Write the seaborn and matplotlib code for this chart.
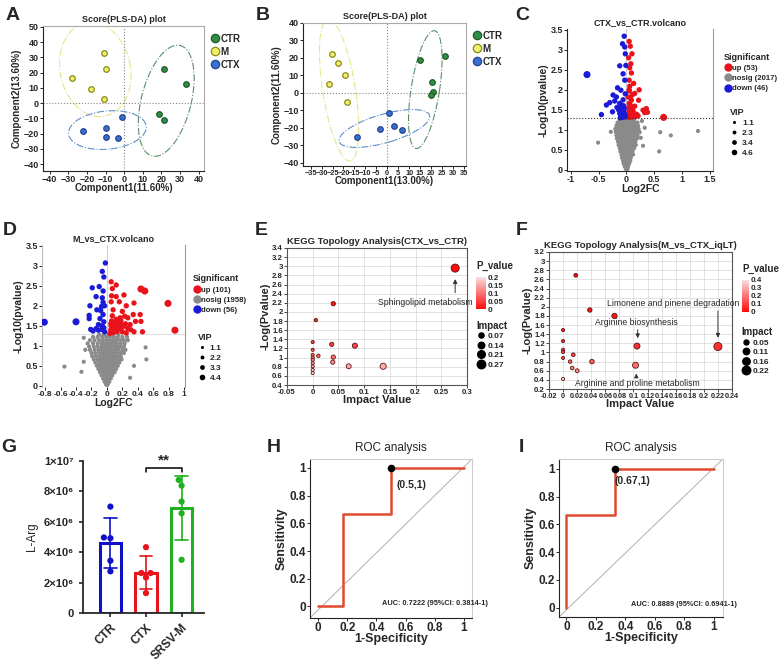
import pandas as pd
import matplotlib
matplotlib.use("Agg")
import matplotlib.pyplot as plt
from matplotlib.patches import Ellipse
from matplotlib.lines import Line2D
from matplotlib.colors import LinearSegmentedColormap, Normalize
from matplotlib.cm import ScalarMappable
import seaborn as sns

# ─────────────── DATA ───────────────
# A : PLS-DA scores (CTX vs CTR vs M)
a_ctr_x = [21.3, 33.3, 18.8, 21.5]
a_ctr_y = [22.1, 12.4, -7.4, -11.1]
a_m_x = [-10.8, -9.9, -28.0, -17.9, -10.8]
a_m_y = [33.0, 22.3, 16.4, 9.0, 2.4]
a_ctx_x = [-1.0, -9.7, -22.0, -9.7, -3.1]
a_ctx_y = [-9.4, -16.4, -18.3, -22.0, -22.9]

# B : PLS-DA scores
b_ctr_x = [15.1, 26.6, 20.6, 20.8, 20.0]
b_ctr_y = [18.8, 21.3, 6.3, 0.4, -1.0]
b_m_x = [-25.2, -22.5, -19.5, -26.6, -18.6]
b_m_y = [22.3, 17.3, 10.2, 5.2, -5.2]
b_ctx_x = [0.9, -3.4, 3.1, 6.9, -13.8]
b_ctx_y = [-11.5, -20.7, -19.0, -21.1, -25.3]

# C : volcano CTX_vs_CTR
c_up = [(0.05, 3.21), (0.07, 3.09), (0.10, 2.90), (0.08, 2.65), (0.09, 2.42), (0.05, 2.24),
        (0.13, 2.16), (0.06, 2.09), (0.23, 2.0), (0.05, 1.97), (0.15, 1.91), (0.03, 1.82),
        (0.09, 1.74), (0.22, 1.74), (0.05, 1.66), (0.15, 1.59), (0.36, 1.53), (0.30, 1.49),
        (0.38, 1.44), (0.33, 1.43), (0.06, 1.49), (0.09, 1.41), (0.18, 1.39), (0.05, 1.33),
        (0.13, 1.37), (0.04, 1.55), (0.07, 1.62), (0.10, 1.52), (0.03, 1.42), (0.06, 1.36),
        (0.10, 1.32), (0.04, 1.31), (0.08, 1.45), (0.12, 1.47), (0.07, 1.80), (0.05, 2.0),
        (0.08, 1.55), (0.16, 1.33), (0.21, 1.35), (0.06, 2.55), (0.04, 2.80), (0.11, 1.88)]
c_down = [(-0.04, 3.34), (-0.07, 3.15), (-0.03, 3.07), (-0.12, 2.60), (-0.01, 2.61), (-0.06, 2.40),
          (-0.03, 2.24), (-0.16, 2.05), (-0.10, 1.99), (-0.24, 1.87), (-0.18, 1.82), (-0.30, 1.68),
          (-0.21, 1.72), (-0.12, 1.66), (-0.36, 1.62), (-0.17, 1.56), (-0.09, 1.56), (-0.06, 1.49),
          (-0.45, 1.38), (-0.25, 1.45), (-0.12, 1.41), (-0.06, 1.37), (-0.02, 2.90), (-0.08, 1.45),
          (-0.04, 1.42), (-0.10, 1.35), (-0.03, 1.32), (-0.07, 1.31), (-0.14, 1.50), (-0.05, 1.60),
          (-0.02, 1.35), (-0.09, 1.62), (-0.04, 1.52), (-0.11, 1.30), (-0.06, 1.75), (-0.02, 1.90)]
c_up_big = [(0.67, 1.31)]
c_down_big = [(-0.71, 2.38)]
c_gray_rows = [
    (0.02, [-0.01, 0.0, 0.01, 0.02]),
    (0.08, [-0.03, -0.01, 0.0, 0.01, 0.03]),
    (0.15, [-0.05, -0.03, -0.01, 0.01, 0.03, 0.05]),
    (0.22, [-0.06, -0.03, 0.0, 0.02, 0.04, 0.07]),
    (0.30, [-0.08, -0.05, -0.02, 0.0, 0.02, 0.05, 0.08]),
    (0.38, [-0.09, -0.06, -0.03, 0.0, 0.03, 0.06, 0.09, 0.12]),
    (0.46, [-0.11, -0.07, -0.04, -0.01, 0.02, 0.05, 0.08, 0.11]),
    (0.54, [-0.12, -0.08, -0.05, -0.02, 0.01, 0.04, 0.07, 0.10, 0.14]),
    (0.62, [-0.14, -0.10, -0.06, -0.03, 0.0, 0.03, 0.06, 0.09, 0.13, 0.17]),
    (0.70, [-0.15, -0.11, -0.07, -0.04, -0.01, 0.02, 0.05, 0.08, 0.12, 0.16]),
    (0.78, [-0.17, -0.12, -0.08, -0.05, -0.02, 0.01, 0.04, 0.07, 0.10, 0.14, 0.19]),
    (0.86, [-0.18, -0.13, -0.09, -0.05, -0.02, 0.01, 0.04, 0.08, 0.11, 0.15, 0.20]),
    (0.94, [-0.19, -0.14, -0.10, -0.06, -0.03, 0.0, 0.03, 0.06, 0.10, 0.14, 0.18, 0.24]),
    (1.02, [-0.20, -0.15, -0.10, -0.06, -0.02, 0.01, 0.05, 0.09, 0.13, 0.17, 0.22]),
    (1.10, [-0.18, -0.13, -0.08, -0.04, 0.0, 0.04, 0.08, 0.12, 0.16, 0.21]),
    (1.18, [-0.16, -0.10, -0.05, -0.01, 0.03, 0.07, 0.11, 0.15, 0.20]),
    (1.25, [-0.12, -0.06, -0.02, 0.02, 0.06, 0.10, 0.14]),
]
c_gray_out = [(1.29, 0.97), (0.80, 0.86), (0.61, 0.94), (0.59, 0.46), (-0.51, 0.68),
              (0.28, 1.22), (0.33, 1.05), (0.26, 0.80), (-0.28, 0.95), (0.30, 0.60)]

# D : volcano M_vs_CTX
d_up = [(0.055, 2.6), (0.12, 2.52), (0.07, 2.43), (0.22, 2.27), (0.35, 2.07), (0.12, 2.23),
        (0.055, 2.1), (0.16, 2.1), (0.25, 2.0), (0.08, 1.9), (0.2, 1.86), (0.34, 1.78),
        (0.43, 1.78), (0.23, 1.74), (0.27, 1.7), (0.12, 1.66), (0.18, 1.63), (0.37, 1.61),
        (0.44, 1.61), (0.3, 1.53), (0.16, 1.53), (0.22, 1.49), (0.055, 1.49), (0.12, 1.45),
        (0.18, 1.41), (0.27, 1.43), (0.35, 1.35), (0.46, 1.35), (0.1, 1.35), (0.2, 1.35),
        (0.06, 1.62), (0.09, 1.57), (0.14, 1.58), (0.05, 1.4), (0.08, 1.33), (0.13, 1.36),
        (0.07, 1.75), (0.1, 1.5), (0.15, 1.46), (0.04, 1.31), (0.24, 1.55), (0.31, 1.4),
        (0.06, 2.25), (0.09, 1.42), (0.17, 1.7), (0.11, 1.38), (0.25, 1.32), (0.2, 1.52),
        (0.05, 1.55)]
d_down = [(-0.02, 3.07), (-0.06, 2.86), (-0.04, 2.72), (-0.19, 2.45), (-0.1, 2.48), (-0.05, 2.37),
          (-0.14, 2.23), (-0.06, 2.2), (-0.05, 2.09), (-0.07, 1.98), (-0.03, 2.0), (-0.22, 2.0),
          (-0.13, 1.9), (-0.23, 1.76), (-0.23, 1.68), (-0.05, 1.78), (-0.09, 1.68), (-0.04, 1.6),
          (-0.11, 1.53), (-0.21, 1.41), (-0.14, 1.43), (-0.11, 1.39), (-0.07, 1.41), (-0.18, 1.37),
          (-0.06, 1.5), (-0.03, 1.35), (-0.08, 1.88), (-0.04, 1.45)]
d_up_big = [(0.44, 2.42), (0.49, 2.37), (0.79, 2.06), (0.88, 1.39)]
d_down_big = [(-0.81, 1.59), (-0.4, 1.6)]
d_gray_rows = [
    (0.03, [-0.01, 0.0, 0.01]),
    (0.10, [-0.03, -0.01, 0.01, 0.03]),
    (0.18, [-0.05, -0.02, 0.0, 0.02, 0.05]),
    (0.26, [-0.07, -0.04, -0.01, 0.02, 0.04, 0.07]),
    (0.34, [-0.09, -0.05, -0.02, 0.01, 0.04, 0.07, 0.10]),
    (0.42, [-0.11, -0.07, -0.04, -0.01, 0.02, 0.05, 0.08, 0.12]),
    (0.50, [-0.13, -0.09, -0.05, -0.02, 0.01, 0.04, 0.07, 0.10, 0.14]),
    (0.58, [-0.15, -0.10, -0.06, -0.03, 0.0, 0.03, 0.06, 0.09, 0.12, 0.16]),
    (0.66, [-0.17, -0.12, -0.08, -0.04, -0.01, 0.02, 0.05, 0.08, 0.11, 0.15, 0.19]),
    (0.74, [-0.19, -0.14, -0.09, -0.05, -0.02, 0.01, 0.04, 0.07, 0.10, 0.14, 0.18]),
    (0.82, [-0.20, -0.15, -0.10, -0.06, -0.03, 0.0, 0.03, 0.06, 0.10, 0.14, 0.18, 0.22]),
    (0.90, [-0.22, -0.16, -0.11, -0.07, -0.03, 0.0, 0.03, 0.07, 0.11, 0.15, 0.20, 0.24]),
    (0.98, [-0.23, -0.17, -0.12, -0.07, -0.03, 0.01, 0.05, 0.09, 0.13, 0.17, 0.22]),
    (1.06, [-0.25, -0.18, -0.12, -0.07, -0.03, 0.01, 0.05, 0.09, 0.13, 0.18, 0.23]),
    (1.14, [-0.22, -0.16, -0.10, -0.05, 0.0, 0.04, 0.08, 0.12, 0.17, 0.22, 0.27]),
    (1.22, [-0.18, -0.12, -0.06, -0.01, 0.04, 0.09, 0.14, 0.20, 0.26]),
    (1.28, [-0.10, -0.04, 0.02, 0.08, 0.15]),
]
d_gray_out = [(-0.55, 0.48), (-0.30, 0.60), (-0.33, 0.35), (-0.30, 1.20), (0.50, 0.96),
              (0.51, 0.66), (0.30, 0.20), (-0.28, 0.90), (0.35, 0.50)]

# E : KEGG topology CTX_vs_CTR
e_impact = [0.277, 0.040, 0.006, 0.037, 0.082, 0.040, 0.011, 0.039, 0.070, 0.137,
            0, 0, 0, 0, 0, 0, 0, 0, 0]
e_logp = [2.96, 2.18, 1.82, 1.29, 1.26, 1.01, 1.04, 0.90, 0.81, 0.81,
          1.34, 1.17, 1.06, 1.00, 0.95, 0.88, 0.81, 0.73, 0.66]

# F : KEGG topology M_vs_CTX
f_impact = [0.018, 0.038, 0.073, 0.105, 0.220, 0.103, 0.041, 0.0145, 0.010, 0.013, 0.020,
            0, 0, 0, 0, 0, 0]
f_logp = [2.69, 1.93, 1.80, 1.14, 1.13, 0.72, 0.80, 0.95, 0.80, 0.66, 0.60,
          1.49, 1.25, 1.06, 1.01, 0.88, 0.42]

# G : L-Arg levels
g_groups = ["CTR", "CTX", "SRSV-M"]
g_ctr = [7.00e6, 4.97e6, 4.92e6, 3.44e6, 2.74e6]
g_ctx = [4.33e6, 2.63e6, 2.63e6, 2.34e6, 1.31e6]
g_srsv = [8.75e6, 8.38e6, 7.33e6, 6.56e6, 3.50e6]

# H, I : ROC curves
h_fpr = [0, 0.167, 0.167, 0.5, 0.5, 1]
h_tpr = [0, 0, 0.667, 0.667, 1, 1]
i_fpr = [0, 0, 0.333, 0.333, 1]
i_tpr = [0, 0.667, 0.667, 1, 1]

# ─────────────── STYLE ───────────────
sns.set_style("ticks")
plt.rcParams["font.family"] = ["Liberation Sans", "DejaVu Sans"]
plt.rcParams["font.weight"] = "bold"
plt.rcParams["axes.labelweight"] = "bold"
plt.rcParams["axes.titleweight"] = "bold"
plt.rcParams["axes.linewidth"] = 0.8

W, H = 779, 661


def box(l, t, r, b):
    return [l / W, 1 - b / H, (r - l) / W, (b - t) / H]


fig = plt.figure(figsize=(7.79, 6.61), dpi=100)

for lab, x, y in [("A", 13, 15), ("B", 263, 15), ("C", 522, 15), ("D", 10, 230), ("E", 261, 230),
                  ("F", 522, 230), ("G", 9, 447), ("H", 274, 447), ("I", 521, 447)]:
    fig.text(x / W, 1 - y / H, lab, fontsize=14, fontweight="bold", ha="center", va="center")


def style_box(ax, fs=6.5):
    for s in ["left", "bottom"]:
        ax.spines[s].set_color("#222222")
    for s in ["top", "right"]:
        ax.spines[s].set_color("#aaaaaa")
        ax.spines[s].set_visible(True)
    ax.tick_params(length=2, width=0.7, labelsize=fs, pad=1)


# ─────────────── A / B : PLS-DA ───────────────
GREEN, YEL, BLUE = "#2f8f45", "#f2ef6a", "#3b6fd4"


def plsda(ax, pts, ells, xlim, ylim, xticks, yticks, xlab, ylab, xfs):
    for (xs, ys), fc, ec in zip(pts, [GREEN, YEL, BLUE], ["#1f5a2b", "#8a8a1a", "#23468f"]):
        sns.scatterplot(x=xs, y=ys, color=fc, edgecolor=ec, linewidth=0.9, s=16, ax=ax, zorder=3)
    for (cx, cy, w, h, ang), col in zip(ells, ["#5b8f68", "#e6e48a", "#5d8fcc"]):
        ax.add_patch(Ellipse((cx, cy), w, h, angle=ang, fill=False, ec=col, ls="-.", lw=0.8))
    ax.axhline(0, color="#888888", ls=":", lw=0.8)
    ax.axvline(0, color="#888888", ls=":", lw=0.8)
    ax.set_xlim(*xlim)
    ax.set_ylim(*ylim)
    ax.set_xticks(xticks)
    ax.set_yticks(yticks)
    ax.set_title("Score(PLS-DA) plot", fontsize=6.5, pad=3)
    ax.set_xlabel(xlab, fontsize=7, labelpad=-1)
    ax.set_ylabel(ylab, fontsize=7, labelpad=1)
    style_box(ax, 6.5)
    ax.tick_params(axis="x", labelsize=xfs)
    hd = [Line2D([], [], marker="o", ls="", mfc=c, mec=e, ms=6, mew=0.9)
          for c, e in zip([GREEN, YEL, BLUE], ["#1f5a2b", "#8a8a1a", "#23468f"])]
    ax.legend(hd, ["CTR", "M", "CTX"], loc="upper left", bbox_to_anchor=(1.0, 0.98), frameon=False,
              fontsize=7, handletextpad=0.0, labelspacing=0.3, borderpad=0, handlelength=1.2)


axA = fig.add_axes(box(43, 26, 204, 171))
plsda(axA, [(a_ctr_x, a_ctr_y), (a_m_x, a_m_y), (a_ctx_x, a_ctx_y)],
      [(22.6, 1.5, 74, 27, 79), (-15.5, 22.0, 62, 38, 97), (-9.0, -17.7, 42, 25, 8)],
      (-43.6, 42.9), (-44.5, 50.5), range(-40, 41, 10), range(-40, 51, 10),
      "Component1(11.60%)", "Component2(13.60%)", 6.5)

axB = fig.add_axes(box(303, 23, 466, 166))
plsda(axB, [(b_ctr_x, b_ctr_y), (b_m_x, b_m_y), (b_ctx_x, b_ctx_y)],
      [(17.4, 1.8, 68, 13, 83), (-22.0, 1.5, 82, 15, 97), (-1.3, -20.5, 44, 16, 21)],
      (-38.5, 36), (-42, 40), range(-35, 36, 5), range(-40, 41, 10),
      "Component1(13.00%)", "Component2(11.60%)", 5.3)

# ─────────────── C / D : volcano ───────────────
VPAL = {"up": "#e8141c", "nosig": "#8a8a8a", "down": "#1a1ad8"}


def volcano_df(up, down, gray_rows, gray_out, up_big, down_big):
    rows = []
    for yv, xs in gray_rows:
        rows += [(x, yv, "nosig", 1.1) for x in xs]
    rows += [(x, y, "nosig", 1.1) for x, y in gray_out]
    rows += [(x, y, "up", 2.3) for x, y in up]
    rows += [(x, y, "down", 2.3) for x, y in down]
    rows += [(x, y, "up", 4.5) for x, y in up_big]
    rows += [(x, y, "down", 4.5) for x, y in down_big]
    return pd.DataFrame(rows, columns=["x", "y", "grp", "vip"])


def volcano(ax, df, title, counts, vips, sig_anchor, vip_anchor):
    sns.scatterplot(data=df, x="x", y="y", hue="grp", palette=VPAL, size="vip", sizes=(9, 26),
                    size_norm=(1.1, 4.5), linewidth=0, legend=False, ax=ax, zorder=3)
    ax.set_title(title, fontsize=6.5, pad=3)
    ax.set_xlabel("Log2FC", fontsize=7.5, labelpad=0)
    ax.set_ylabel("-Log10(pvalue)", fontsize=7.5, labelpad=1)
    ax.set_ylim(-0.03, 3.52)
    ax.set_yticks([0, 0.5, 1, 1.5, 2, 2.5, 3, 3.5])
    ax.set_yticklabels(["0", "0.5", "1", "1.5", "2", "2.5", "3", "3.5"])
    ax.tick_params(length=2, width=0.7, labelsize=6.5, pad=1)
    hd = [Line2D([], [], marker="o", ls="", color=VPAL[k], ms=5) for k in ["up", "nosig", "down"]]
    labs = [f"up ({counts[0]})", f"nosig ({counts[1]})", f"down ({counts[2]})"]
    leg = ax.legend(hd, labs, title="Significant", loc="upper left", bbox_to_anchor=sig_anchor,
                    frameon=False, fontsize=5.6, title_fontsize=6.5, handletextpad=0.05,
                    labelspacing=0.35, borderpad=0, handlelength=1.0)
    leg._legend_box.align = "left"
    ax.add_artist(leg)
    hd2 = [Line2D([], [], marker="o", ls="", color="black", ms=m) for m in [1.2, 1.8, 2.4, 3.0]]
    leg2 = ax.legend(hd2, vips, title="VIP", loc="upper left", bbox_to_anchor=vip_anchor,
                     frameon=False, fontsize=6, title_fontsize=6.5, handletextpad=0.4,
                     labelspacing=0.25, borderpad=0, handlelength=1.0)
    leg2._legend_box.align = "left"


axC = fig.add_axes(box(567, 29, 713, 171))
dfC = volcano_df(c_up, c_down, c_gray_rows, c_gray_out, c_up_big, c_down_big)
axC.axvline(0, color="#cccccc", lw=0.7, zorder=1)
axC.axhline(1.301, color="#333333", ls=":", lw=0.8, zorder=4)
volcano(axC, dfC, "CTX_vs_CTR.volcano", (53, 2017, 46), ["1.1", "2.3", "3.4", "4.6"],
        (1.05, 0.86), (1.09, 0.47))
axC.set_xlim(-1.07, 1.56)
axC.set_xticks([-1, -0.5, 0, 0.5, 1, 1.5])
axC.set_xticklabels(["-1", "-0.5", "0", "0.5", "1", "1.5"])
axC.spines["top"].set_visible(False)
axC.spines["right"].set_color("#999999")
axC.spines["left"].set_color("#222222")
axC.spines["bottom"].set_color("#222222")

axD = fig.add_axes(box(42, 245, 185, 387))
dfD = volcano_df(d_up, d_down, d_gray_rows, d_gray_out, d_up_big, d_down_big)
axD.axvline(0, color="#cccccc", lw=0.7, zorder=1)
axD.axhline(1.301, color="#dddddd", lw=0.7, zorder=1)
volcano(axD, dfD, "M_vs_CTX.volcano", (101, 1958, 56), ["1.1", "2.2", "3.3", "4.4"],
        (1.03, 0.82), (1.06, 0.41))
axD.set_xlim(-0.84, 1.01)
axD.set_xticks([-0.8, -0.6, -0.4, -0.2, 0, 0.2, 0.4, 0.6, 0.8, 1])
axD.set_xticklabels(["-0.8", "-0.6", "-0.4", "-0.2", "0", "0.2", "0.4", "0.6", "0.8", "1"])
axD.tick_params(axis="x", labelsize=6)
axD.spines["top"].set_visible(False)
axD.spines["bottom"].set_visible(False)
axD.spines["right"].set_color("#999999")
axD.spines["left"].set_color("#bbbbbb")

# ─────────────── E / F : KEGG topology ───────────────
PCMAP = LinearSegmentedColormap.from_list("pv", ["#ff0a0a", "#f8dede"])


def kegg(ax, impact, logp, pmax, imax, title, xlim, ylim, xticks, yticks, sizes_leg, cax):
    df = pd.DataFrame({"impact": impact, "logp": logp})
    df["p"] = 10 ** (-df["logp"])
    ax.grid(True, color="#dddddd", lw=0.6)
    sns.scatterplot(data=df, x="impact", y="logp", hue="p", palette=PCMAP, hue_norm=(0, pmax),
                    size="impact", sizes=(5, 34), size_norm=(0, imax), edgecolor="#5a1212",
                    linewidth=0.6, legend=False, ax=ax, zorder=3)
    ax.set_xlim(*xlim)
    ax.set_ylim(*ylim)
    ax.set_xticks(xticks)
    ax.set_xticklabels([f"{v:g}" for v in xticks])
    ax.set_yticks(yticks)
    ax.set_yticklabels([f"{v:g}" for v in yticks])
    ax.set_title(title, fontsize=6.8, pad=3)
    ax.set_xlabel("Impact Value", fontsize=8, labelpad=-1)
    ax.set_ylabel("-Log(Pvalue)", fontsize=8, labelpad=1)
    for s in ax.spines.values():
        s.set_color("#555555")
        s.set_visible(True)
    ax.tick_params(length=2, width=0.6, labelsize=5.6, pad=1)
    cb = fig.colorbar(ScalarMappable(Normalize(0, pmax), PCMAP), cax=cax)
    cb.outline.set_visible(False)
    cb.ax.tick_params(length=0, labelsize=5.8, pad=1)
    cb.set_ticks(sizes_leg[2])
    cb.set_ticklabels([f"{v:g}" for v in sizes_leg[2]])
    cax.set_title("P_value", fontsize=7, pad=6, loc="left")
    hd = [Line2D([], [], marker="o", ls="", color="black", ms=(5 + v / imax * 29) ** 0.5 * 1.05)
          for v in sizes_leg[0]]
    leg = ax.legend(hd, sizes_leg[1], title="Impact", loc="upper left", bbox_to_anchor=sizes_leg[3],
                    frameon=False, fontsize=6, title_fontsize=7, handletextpad=0.3,
                    labelspacing=0.2, borderpad=0, handlelength=1.0)
    leg._legend_box.align = "left"


axE = fig.add_axes(box(287, 248, 467, 385))
caxE = fig.add_axes(box(476, 277, 486, 309))
kegg(axE, e_impact, e_logp, 0.2, 0.27, "KEGG Topology Analysis(CTX_vs_CTR)", (-0.05, 0.3), (0.4, 3.4),
     [-0.05, 0, 0.05, 0.1, 0.15, 0.2, 0.25, 0.3], [round(0.4 + 0.2 * i, 1) for i in range(16)],
     ([0.07, 0.14, 0.21, 0.27], ["0.07", "0.14", "0.21", "0.27"], [0, 0.05, 0.1, 0.15, 0.2], (1.03, 0.5)),
     caxE)
axE.annotate("", xy=(0.277, 2.78), xytext=(0.277, 2.36),
             arrowprops=dict(arrowstyle="-|>", color="#333333", lw=0.7, mutation_scale=6))
axE.text(0.218, 2.2, "Sphingolipid metabolism", fontsize=6.2, fontweight="normal", ha="center", va="center")

axF = fig.add_axes(box(549, 252, 732, 389))
caxF = fig.add_axes(box(742, 280, 749, 312))
kegg(axF, f_impact, f_logp, 0.4, 0.22, "KEGG Topology Analysis(M_vs_CTX_iqLT)", (-0.02, 0.24), (0.2, 3.2),
     [round(-0.02 + 0.02 * i, 2) for i in range(14)], [round(0.2 + 0.2 * i, 1) for i in range(16)],
     ([0.05, 0.11, 0.16, 0.22], ["0.05", "0.11", "0.16", "0.22"], [0, 0.1, 0.2, 0.3, 0.4], (1.03, 0.48)),
     caxF)
axF.tick_params(axis="x", labelsize=5.2)
for (tx, ty, txt), (ax0, ay0, ay1) in zip(
        [(0.157, 2.08, "Limonene and pinene degradation"), (0.104, 1.66, "Arginine biosynthesis"),
         (0.105, 0.31, "Arginine and proline metabolism")],
        [(0.22, 1.97, 1.26), (0.106, 1.56, 1.25), (0.104, 0.40, 0.60)]):
    axF.annotate("", xy=(ax0, ay1), xytext=(ax0, ay0),
                 arrowprops=dict(arrowstyle="-|>", color="#333333", lw=0.7, mutation_scale=6))
    axF.text(tx, ty, txt, fontsize=6.2, fontweight="normal", ha="center", va="center")

# ─────────────── G : bar + points ───────────────
GCOL = {"CTR": "#1010c8", "CTX": "#e8141c", "SRSV-M": "#20b020"}
gdf = pd.DataFrame({"group": ["CTR"] * len(g_ctr) + ["CTX"] * len(g_ctx) + ["SRSV-M"] * len(g_srsv),
                    "val": g_ctr + g_ctx + g_srsv})
axG = fig.add_axes(box(83, 461, 204, 613))
sns.barplot(data=gdf, x="group", y="val", hue="group", palette=GCOL, fill=False, errorbar="sd",
            capsize=0.35, linewidth=2.2, width=0.6, legend=False, err_kws={"linewidth": 1.2}, ax=axG)
sns.swarmplot(data=gdf, x="group", y="val", hue="group", palette=GCOL, size=4.5, legend=False, ax=axG)
axG.set_xlim(-0.77, 2.63)
axG.set_ylim(0, 1.0e7)
axG.set_yticks([0, 2e6, 4e6, 6e6, 8e6, 1e7])
axG.set_yticklabels(["0", "2×10⁶", "4×10⁶", "6×10⁶", "8×10⁶", "1×10⁷"])
axG.set_xlabel("")
axG.set_ylabel("L-Arg", fontsize=8.5, fontweight="normal")
axG.tick_params(axis="y", labelsize=8, length=3, width=1.2)
axG.tick_params(axis="x", labelsize=8.5, length=3, width=1.2)
for t in axG.get_xticklabels():
    t.set_rotation(45)
    t.set_ha("right")
    t.set_rotation_mode("anchor")
sns.despine(ax=axG)
axG.spines["left"].set_linewidth(1.3)
axG.spines["bottom"].set_linewidth(1.3)
axG.plot([1, 1, 2, 2], [9.3e6, 9.55e6, 9.55e6, 9.3e6], color="black", lw=1.1, clip_on=False)
axG.text(1.5, 9.55e6, "**", ha="center", va="bottom", fontsize=11)

# ─────────────── H / I : ROC ───────────────


def roc(ax, fpr, tpr, cut, cut_lab, lab_xy, auc, xlim, ylim):
    ax.plot([0, 1], [0, 1], transform=ax.transAxes, color="#b0b0b0", lw=0.7)
    sns.lineplot(x=fpr, y=tpr, sort=False, estimator=None, color="#e04a30", lw=1.8, ax=ax)
    ax.scatter([cut[0]], [cut[1]], color="black", s=20, zorder=5)
    ax.text(lab_xy[0], lab_xy[1], cut_lab, fontsize=7.5, va="center")
    ax.text(0.8, 0.02, auc, fontsize=5.3, ha="center", va="center")
    ax.set_xlim(*xlim)
    ax.set_ylim(*ylim)
    ticks = [0, 0.2, 0.4, 0.6, 0.8, 1]
    ax.set_xticks(ticks)
    ax.set_xticklabels([f"{v:g}" for v in ticks])
    ax.set_yticks(ticks)
    ax.set_yticklabels([f"{v:g}" for v in ticks])
    ax.set_title("ROC analysis", fontsize=8.5, fontweight="normal", pad=6)
    ax.set_xlabel("1-Specificity", fontsize=9, labelpad=-1)
    ax.set_ylabel("Sensitivity", fontsize=9, labelpad=1)
    style_box(ax, 8.5)
    ax.spines["top"].set_color("#cccccc")
    ax.spines["right"].set_color("#cccccc")


axH = fig.add_axes(box(310, 459, 472, 618))
roc(axH, h_fpr, h_tpr, (0.5, 1), "(0.5,1)", (0.54, 0.88), "AUC: 0.7222 (95%CI: 0.3814-1)",
    (-0.057, 1.057), (-0.084, 1.065))
axI = fig.add_axes(box(559, 459, 723, 617))
roc(axI, i_fpr, i_tpr, (0.333, 1), "(0.67,1)", (0.33, 0.91), "AUC: 0.8889 (95%CI: 0.6941-1)",
    (-0.05, 1.064), (-0.067, 1.07))

fig.savefig("out.png", dpi=100)
